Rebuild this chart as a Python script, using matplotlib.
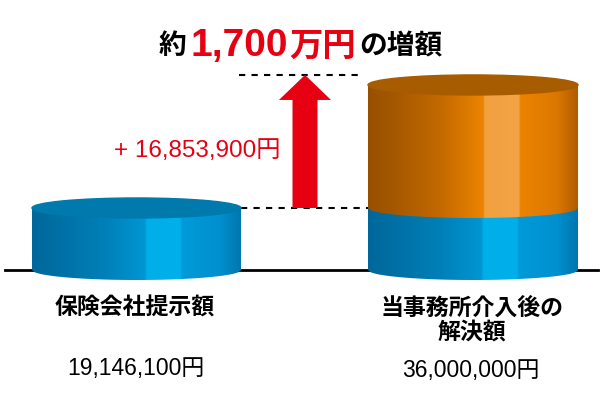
import numpy as np
import matplotlib.pyplot as plt
from matplotlib.patches import Ellipse, Polygon, FancyArrow
from matplotlib.colors import LinearSegmentedColormap

plt.rcParams['font.family'] = ['Noto Sans CJK JP', 'DejaVu Sans']
NUMFONT = ['Liberation Sans', 'Noto Sans CJK JP']

# data
labels = ['保険会社提示額', '当事務所介入後の\n解決額']
amounts = [19146100, 36000000]
amount_labels = ['19,146,100円', '36,000,000円']
increase_label = '+ 16,853,900円'
title_parts = ['約', '1,700', '万円', 'の増額']

base = amounts[0]
increase = amounts[1] - amounts[0]

# truncated value axis: baseline sits well above zero (infographic style)
k = 7.3e-6            # pixels per yen
v0 = 10.65e6          # value at the baseline
eh = 10 / k           # half height of the cylinder ellipses

blue = LinearSegmentedColormap.from_list('blue', [
    (0.0, '#00679a'), (0.1, '#006ea2'), (0.35, '#0080b8'), (0.54, '#0096d2'),
    (0.55, '#00aee8'), (0.71, '#00b0ea'), (0.72, '#009ad8'), (0.9, '#0090d0'),
    (1.0, '#0076ae')])
orange = LinearSegmentedColormap.from_list('orange', [
    (0.0, '#985000'), (0.1, '#a25600'), (0.35, '#c46a00'), (0.55, '#ec8400'),
    (0.556, '#f2a040'), (0.72, '#f4a446'), (0.726, '#ec8400'), (0.9, '#dc7800'),
    (1.0, '#b05c00')])

fig = plt.figure(figsize=(6, 4), dpi=100)
ax = fig.add_axes([0, 0, 1, 1])
ax.axis('off')


def body(x0, x1, y0, y1, cmap, z):
    xs = np.linspace(x0, x1, 80)
    cx, a = (x0 + x1) / 2, (x1 - x0) / 2
    bottom = y0 - eh * np.sqrt(np.clip(1 - ((xs - cx) / a) ** 2, 0, 1))
    verts = [(x0, y1)] + list(zip(xs, bottom)) + [(x1, y1)]
    poly = Polygon(verts, closed=True, facecolor='none', edgecolor='none')
    ax.add_patch(poly)
    grad = np.linspace(0, 1, 512).reshape(1, -1)
    im = ax.imshow(grad, cmap=cmap, aspect='auto', extent=[x0, x1, y0 - eh, y1],
                   zorder=z, interpolation='bilinear')
    im.set_clip_path(poly)


# baseline
ax.plot([5, 598], [v0, v0], color='black', lw=2, zorder=1)

# left cylinder
lx0, lx1 = 32, 241
body(lx0, lx1, v0, amounts[0], blue, 2)
ax.add_patch(Ellipse(((lx0 + lx1) / 2, amounts[0]), lx1 - lx0, 2 * eh,
                     color='#0079ad', zorder=3))

# right cylinder (stacked)
rx0, rx1 = 368, 578
body(rx0, rx1, v0, base, blue, 2)
body(rx0, rx1, base, base + increase, orange, 3)
ax.add_patch(Ellipse(((rx0 + rx1) / 2, base + increase), rx1 - rx0, 2 * eh,
                     color='#a85c00', zorder=4))

# dashed guides
ax.plot([lx1, rx0], [base, base], color='black', lw=1.5, ls=(0, (3, 3)), zorder=1)
ax.plot([239, 360], [amounts[1] + eh] * 2, color='black', lw=1.5, ls=(0, (3, 3)), zorder=1)

# arrow
ax.add_patch(FancyArrow(305, base, 0, amounts[1] + eh - base, width=25, head_width=52,
                        head_length=25 / k, length_includes_head=True,
                        color='#e60012', lw=0, zorder=5))

ax.set_xlim(0, 600)
ax.set_ylim(v0 - 130 / k, v0 + 270 / k)


def px(x, y):
    return x / 600, 1 - y / 400


fig.text(*px(197, 151), increase_label, color='#e60012', fontsize=17.5,
         family=NUMFONT, ha='center', va='center')

fig.text(*px(135, 308), labels[0], fontsize=16.5, fontweight='bold',
         ha='center', va='center')
fig.text(*px(472, 320), labels[1], fontsize=16.5, fontweight='bold',
         ha='center', va='center', linespacing=1.05)
fig.text(*px(136, 368), amount_labels[0], fontsize=16.5, family=NUMFONT,
         ha='center', va='center')
fig.text(*px(471, 371), amount_labels[1], fontsize=16.5, family=NUMFONT,
         ha='center', va='center')

# title in pieces
renderer = fig.canvas.get_renderer()
x = 159
styles = [dict(color='black', fontsize=20),
          dict(color='#e60012', fontsize=28, family=['Liberation Sans']),
          dict(color='#e60012', fontsize=24),
          dict(color='black', fontsize=20)]
gaps = [4, 1, 3, 0]
for part, st, g in zip(title_parts, styles, gaps):
    t = fig.text(x / 600, 1 - 46 / 400, part, fontweight='bold', ha='left',
                 va='center', **st)
    bb = t.get_window_extent(renderer)
    x += bb.width + g

fig.savefig('out.png', dpi=100)
